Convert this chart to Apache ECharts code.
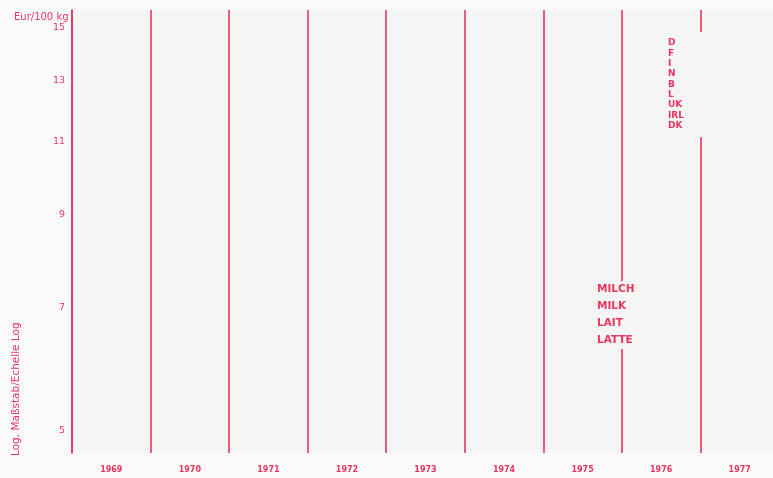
<!DOCTYPE html>
<html>
<head>
  <meta charset="utf-8"/>
  <title>Milch</title>
  <script src="https://cdn.jsdelivr.net/npm/echarts@6/dist/echarts.min.js"></script>
  <style>
    html, body { margin: 0; padding: 0; background: #fafafa; }
  </style>
</head>
<body>
<div id="main" style="width: 773px;height: 478px"></div>
<script type="text/javascript">
  // Jahre / tick labels
  var years = ['1969', '1970', '1971', '1972', '1973', '1974', '1975', '1976', '1977'];
  var yTicks = [5, 7, 9, 11, 13, 15];
  var countries = ['D', 'F', 'I', 'N', 'B', 'L', 'UK', 'IRL', 'DK'];
  var productNames = ['MILCH', 'MILK', 'LAIT', 'LATTE'];
  // no price curves are legible in the scan
  var milkPrice = [];

  var red = '#e8365e';
  var bg = '#f5f5f5';

  var myChart = echarts.init(document.getElementById('main'));

  myChart.setOption({
    backgroundColor: '#fafafa',
    animation: false,
    title: {
      text: 'Eur/100 kg',
      left: 9,
      top: 7,
      textStyle: {color: red, fontSize: 10, fontWeight: 'normal', fontFamily: 'DejaVu Sans'}
    },
    grid: {
      left: 72,
      width: 707,
      top: 10,
      bottom: 25,
      outerBoundsMode: 'none',
      containLabel: false,
      show: true,
      backgroundColor: bg,
      borderWidth: 0
    },
    xAxis: {
      type: 'category',
      data: years,
      boundaryGap: true,
      axisLine: {show: false},
      axisTick: {show: false},
      axisLabel: {color: red, fontSize: 8, fontWeight: 'bold', margin: 13, fontFamily: 'DejaVu Sans'},
      splitLine: {show: true, lineStyle: {color: red, width: 1.6}}
    },
    yAxis: {
      type: 'log',
      logBase: 10,
      min: 4.7,
      max: 15.75,
      axisLine: {show: true, lineStyle: {color: red, width: 1.6}},
      axisTick: {show: false},
      splitLine: {show: false},
      axisLabel: {
        customValues: yTicks,
        color: red,
        fontSize: 9.5,
        margin: 7,
        fontFamily: 'DejaVu Sans'
      }
    },
    series: [{
      name: 'MILCH',
      type: 'line',
      data: milkPrice
    }],
    graphic: [
      {
        type: 'text',
        rotation: Math.PI / 2,
        x: 11,
        y: 456,
        style: {
          text: 'Log. Maßstab/Echelle Log',
          fill: red,
          font: '10.5px DejaVu Sans'
        }
      },
      {
        type: 'rect',
        shape: {x: 696, y: 32, width: 10, height: 105},
        style: {fill: bg},
        z: 10
      },
      {
        type: 'text',
        x: 668,
        y: 38,
        z: 11,
        style: {
          text: countries.join('\n'),
          fill: red,
          font: 'bold 9px DejaVu Sans',
          lineHeight: 10.3
        }
      },
      {
        type: 'text',
        x: 596,
        y: 281,
        z: 11,
        style: {
          text: productNames.join('\n'),
          fill: red,
          font: 'bold 10.5px DejaVu Sans',
          lineHeight: 17,
          backgroundColor: bg,
          padding: [0, 2, 0, 1]
        }
      }
    ]
  });
</script>
</body>
</html>
